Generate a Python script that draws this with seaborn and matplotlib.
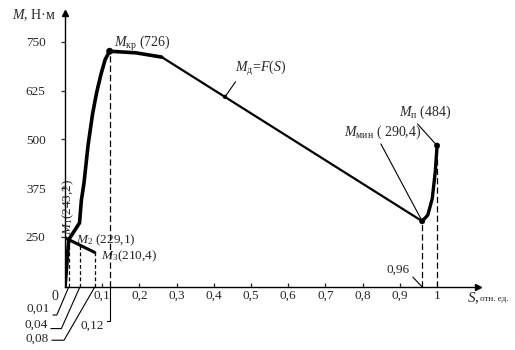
import numpy as np
import matplotlib
matplotlib.use("Agg")
import matplotlib.pyplot as plt
import seaborn as sns
import pandas as pd

# ---- data ---------------------------------------------------------------
# rising branch of the motor torque curve, S (p.u.) vs M (N·m)
s_rise = [0, 0.01, 0.039, 0.044, 0.051, 0.062, 0.074, 0.085, 0.097, 0.108, 0.12]
m_rise = [0, 243.2, 286, 344, 388, 485, 565, 620, 668, 705, 726]
# flat top after the critical torque
s_top = [0.12, 0.19, 0.26]
m_top = [726, 722, 711]
# working part M_d = F(S)
s_work = [0.26, 0.96]
m_work = [711, 290.4]
# rise from the minimum torque to the starting torque
s_start = [0.96, 0.975, 0.987, 0.995, 1.0]
m_start = [290.4, 306, 348, 416, 484]
# load line through M1, M2, M3
s_load = [0, 0.01, 0.04, 0.08]
m_load = [248, 243.2, 229.1, 210.4]
# characteristic points
s_marks = [0.12, 0.43, 0.96, 1.0]
m_marks = [726, 609, 290.4, 484]
# projections onto the slip axis
s_drop = [0.01, 0.04, 0.08, 0.12, 0.96, 1.0]
m_drop = [243.2, 229.1, 210.4, 726, 290.4, 484]
drop_labels = ["0,01", "0,04", "0,08", "0,12", "0,96", None]

x_ticks = [0.1, 0.2, 0.3, 0.4, 0.5, 0.6, 0.7, 0.8, 0.9, 1.0]
x_ticklabels = ["0,1", "0,2", "0,3", "0,4", "0,5", "0,6", "0,7", "0,8", "0,9", "1"]
y_ticks = [250, 375, 500, 625, 750]
y_ticklabels = ["250", "375", "500", "625", "750"]

# ---- style --------------------------------------------------------------
sns.set_style("ticks")
plt.rcParams["font.family"] = ["Liberation Serif", "DejaVu Serif"]
plt.rcParams["mathtext.fontset"] = "custom"
plt.rcParams["mathtext.rm"] = "Liberation Serif"
plt.rcParams["mathtext.it"] = "Liberation Serif:italic"
plt.rcParams["mathtext.bf"] = "Liberation Serif:bold"

W, H = 515, 350
fig = plt.figure(figsize=(W / 100, H / 100), dpi=100)


def px(x, y):
    """pixel position (from top-left) -> figure fraction"""
    return (x / W, 1 - y / H)


ax = fig.add_axes([65 / W, (H - 287) / H, (478 - 65) / W, (287 - 13) / H])

# y axis is broken below 200: the 0..200 span is compressed
Y_BREAK, Y_FLOOR = 200.0, 121.8


def fwd(v):
    v = np.asarray(v, dtype=float)
    return np.where(v >= Y_BREAK, v, Y_FLOOR + v * (Y_BREAK - Y_FLOOR) / Y_BREAK)


def inv(u):
    u = np.asarray(u, dtype=float)
    return np.where(u >= Y_BREAK, u, (u - Y_FLOOR) * Y_BREAK / (Y_BREAK - Y_FLOOR))


ax.set_yscale("function", functions=(fwd, inv))
ax.set_xlim(0, 1.11)
ax.set_ylim(0, 824)

# ---- curves -------------------------------------------------------------
def seg(s, m, lw):
    sns.lineplot(x=s, y=m, sort=False, color="black", lw=lw, ax=ax,
                 solid_capstyle="round", solid_joinstyle="round")


seg(s_rise, m_rise, 2.6)
seg(s_top, m_top, 2.6)
seg(s_work, m_work, 1.6)
seg(s_start, m_start, 2.4)
seg(s_load, m_load, 2.2)

# dashed projections
for s, m in zip(s_drop, m_drop):
    dash = (0, (3, 2)) if s < 0.1 else (0, (5, 2.5))
    ax.plot([s, s], [0, m], color="black", lw=0.9, ls=dash)

sns.scatterplot(x=s_marks, y=m_marks, s=[22, 8, 16, 16], size=[22, 8, 16, 16],
                sizes=(8, 22), color="black", edgecolor="black", legend=False,
                ax=ax, zorder=5)

# ---- axes ---------------------------------------------------------------
sns.despine(ax=ax)
for sp in ("left", "bottom"):
    ax.spines[sp].set_linewidth(1.0)
    ax.spines[sp].set_color("black")
ax.plot(1, 0, marker=">", ms=5, color="black", transform=ax.transAxes, clip_on=False)
ax.plot(0, 1, marker="^", ms=5, color="black", transform=ax.transAxes, clip_on=False)

ax.set_xticks(x_ticks)
ax.set_xticklabels(x_ticklabels)
ax.set_yticks(y_ticks)
ax.set_yticklabels(y_ticklabels)
ax.minorticks_off()
ax.tick_params(axis="x", direction="in", length=3, width=0.9, pad=2, labelsize=9.5)
ax.tick_params(axis="y", direction="out", length=3, width=0.9, pad=11, labelsize=9.5)
ax.set_xlabel("")
ax.set_ylabel("")

fig.text(*px(55, 296), "0", fontsize=10, ha="center", va="center")
fig.text(*px(12, 15), "$M$, Н·м", fontsize=10, ha="left", va="center")
fig.text(*px(467, 298), "$S$,", fontsize=11, ha="left", va="center")
fig.text(*px(480, 299), "отн. ед.", fontsize=6.5, ha="left", va="center")

# ---- point labels -------------------------------------------------------
fig.text(*px(142, 44), r"$M_{\mathrm{кр}}$ (726)", fontsize=10, ha="center", va="center")
fig.text(*px(68, 207), r"$M_1$(243,2)", fontsize=9.5, ha="center", va="center",
         rotation=90)
fig.text(*px(106, 240), r"$M_2$ (229,1)", fontsize=9.5, ha="center", va="center")
fig.text(*px(129, 256), r"$M_3$(210,4)", fontsize=9.5, ha="center", va="center")

line_kw = dict(arrowstyle="-", color="black", lw=0.8, shrinkA=0, shrinkB=0)
ax.annotate(r"$M_{\mathrm{д}}\!=\!F(S)$", xy=(s_marks[1], m_marks[1]),
            xytext=px(261, 69), textcoords="figure fraction", fontsize=10,
            ha="center", va="center",
            arrowprops=dict(line_kw, relpos=(0.05, 0.0)))
ax.annotate(r"$M_{\mathrm{мин}}$ ( 290,4)", xy=(s_marks[2], m_marks[2]),
            xytext=px(383, 132), textcoords="figure fraction", fontsize=10,
            ha="center", va="center",
            arrowprops=dict(line_kw, relpos=(0.45, 0.0)))
ax.annotate(r"$M_{\mathrm{п}}$ (484)", xy=(s_marks[3], m_marks[3]),
            xytext=px(425, 112), textcoords="figure fraction", fontsize=10,
            ha="center", va="center",
            arrowprops=dict(line_kw, relpos=(0.3, 0.0)))

# ---- slip value call-outs -----------------------------------------------
callouts = {
    "0,01": (px(38, 309), 67, (1.0, 0.0)),
    "0,04": (px(36, 325), 66, (1.0, 0.2)),
    "0,08": (px(37, 339), 60, (1.0, 0.4)),
    "0,12": (px(92, 326), 90, (1.0, 0.9)),
}
for s, lab in zip(s_drop, drop_labels):
    if lab is None:
        continue
    if lab in callouts:
        pos, angle, rel = callouts[lab]
        ax.annotate(lab, xy=(s, 0), xytext=pos, textcoords="figure fraction",
                    fontsize=9.5, ha="center", va="center",
                    arrowprops=dict(line_kw, relpos=rel,
                                    connectionstyle=f"angle,angleA=0,angleB={angle},rad=0"))
    else:
        ax.annotate(lab, xy=(s, 0), xytext=px(398, 270), textcoords="figure fraction",
                    fontsize=9.5, ha="center", va="center",
                    arrowprops=dict(line_kw, relpos=(1.0, 0.2)))

fig.savefig("out.png", dpi=100)
